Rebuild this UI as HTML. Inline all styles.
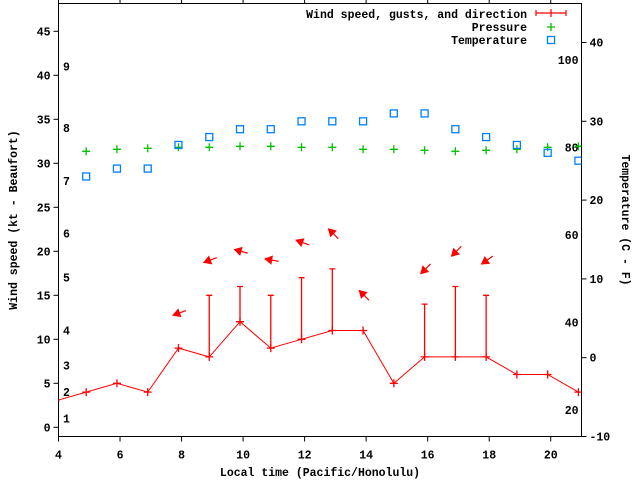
<!DOCTYPE html>
<html><head><meta charset="utf-8"><style>
html,body{margin:0;padding:0;background:#fff;}
svg{display:block;}
text{font-family:"Liberation Mono",monospace;font-weight:bold;font-size:11.5px;fill:#000;}
</style></head><body>
<svg id="chart" width="640" height="480" viewBox="0 0 640 480" xmlns="http://www.w3.org/2000/svg"></svg>
<script>
const hours = [3.9,4.9,5.9,6.9,7.9,8.9,9.9,10.9,11.9,12.9,13.9,14.9,15.9,16.9,17.9,18.9,19.9,20.9];
const windKt = [3,4,5,4,9,8,12,9,10,11,11,5,8,8,8,6,6,4];
const gustKt = [null,null,null,null,null,15,16,15,17,18,null,null,14,16,15,null,null,null];
const windDir = [null,null,null,null,70,70,105,100,110,135,135,null,45,45,55,null,null,null];
const tempC = [null,23,24,24,27,28,29,29,30,30,30,31,31,29,28,27,26,25];
const pressureHpa = [null,1015.5,1015.7,1015.8,1015.9,1015.9,1016.0,1016.0,1015.9,1015.9,1015.7,1015.7,1015.6,1015.5,1015.6,1015.7,1015.9,1016.0];
const xTicks = [4,6,8,10,12,14,16,18,20];
const yTicks = [0,5,10,15,20,25,30,35,40,45];
const tempTicks = [-10,0,10,20,30,40];
const fahrTicks = [20,40,60,80,100];
const beaufortLabels = [1,2,3,4,5,6,7,8,9];
const beaufortKt = [1,4,7,11,17,22,28,34,41];

const L=58.5,R=581.5,T=3.5,B=436.5;
const X=h=>L+(h-4)*(R-L)/17;
const Y=v=>427.3-v*8.8;
const YT=c=>357.7-c*7.88;
const YP=p=>146.3+(1016-p)*10;
const svg=document.getElementById('chart');
const NS='http://www.w3.org/2000/svg';
function mk(tag,attrs,parent){const e=document.createElementNS(NS,tag);for(const k in attrs)e.setAttribute(k,attrs[k]);(parent||svg).appendChild(e);return e;}
function txt(s,x,y,anchor,parent){const t=mk('text',{x:x,y:y,'text-anchor':anchor||'start'},parent);t.textContent=s;return t;}

const defs=mk('defs',{});
const cp=mk('clipPath',{id:'plotclip'},defs);
mk('rect',{x:L,y:T,width:R-L,height:B-T},cp);

const axes=mk('g',{});


mk('rect',{x:L,y:T,width:R-L,height:B-T,fill:'none',stroke:'#000','stroke-width':1},axes);
xTicks.forEach(v=>{
  const g=mk('g',{},axes);
  
  
  mk('line',{x1:X(v),x2:X(v),y1:B,y2:B+5,stroke:'#000'},g);
  mk('line',{x1:X(v),x2:X(v),y1:T,y2:T-5,stroke:'#000'},g);
  txt(String(v),X(v),B+22,'middle',g);
});
yTicks.forEach(v=>{
  const g=mk('g',{},axes);
  
  
  mk('line',{x1:L-5,x2:L,y1:Y(v),y2:Y(v),stroke:'#000'},g);
  txt(String(v),L-8,Y(v)+4,'end',g);
});
tempTicks.forEach(v=>{
  const g=mk('g',{},axes);
  
  
  mk('line',{x1:R,x2:R+5,y1:YT(v),y2:YT(v),stroke:'#000'},g);
  txt(String(v),R+8,YT(v)+4,'start',g);
});
fahrTicks.forEach(v=>{
  const t=txt(String(v),R-3,YT((v-32)*5/9)+4,'end',axes);
  
  
});
beaufortLabels.forEach((b,i)=>{
  const t=txt(String(b),63,Y(beaufortKt[i])+4,'start',axes);
  
  
});
const xt=txt('Local time (Pacific/Honolulu)',320,476,'middle');


const yl=txt('Wind speed (kt - Beaufort)',0,0,'middle');
yl.setAttribute('transform','translate(17,220) rotate(-90)');


const yr=txt('Temperature (C - F)',0,0,'middle');
yr.setAttribute('transform','translate(622,220) rotate(90)');



const plot=mk('g',{'clip-path':'url(#plotclip)'});
const pg=mk('g',{},plot);


pressureHpa.forEach((p,i)=>{
  if(p==null)return;
  const x=X(hours[i]),y=YP(p);
  const m=mk('path',{d:`M${x-4},${y}H${x+4}M${x},${y-4}V${y+4}`,stroke:'#00c000','stroke-width':1.3,fill:'none'},pg);
  
  
});
const tg=mk('g',{},plot);


tempC.forEach((c,i)=>{
  if(c==null)return;
  const x=X(hours[i]),y=YT(c);
  const m=mk('rect',{x:x-3.5,y:y-3.5,width:7,height:7,fill:'none',stroke:'#0080ff','stroke-width':1.3},tg);
  
  
});
const wg=mk('g',{},plot);


const wl=mk('polyline',{points:hours.map((h,i)=>X(h)+','+Y(windKt[i])).join(' '),fill:'none',stroke:'#ff0000','stroke-width':1},wg);


hours.forEach((h,i)=>{
  const x=X(h),y=Y(windKt[i]);
  const m=mk('path',{d:`M${x-4},${y}H${x+4}M${x},${y-4}V${y+4}`,stroke:'#ff0000','stroke-width':1.3,fill:'none'},wg);
  
  
  if(gustKt[i]!=null){
    const yg=Y(gustKt[i]);
    const e=mk('path',{d:`M${x},${y}V${yg}M${x-3},${yg}H${x+3}`,stroke:'#ff0000','stroke-width':1.3,fill:'none'},wg);
    
    
  }
  if(windDir[i]!=null){
    const top=Math.max(windKt[i],gustKt[i]||0)+4;
    const cy=Y(top),cx=x+1;
    const a=windDir[i]*Math.PI/180;
    const dx=-Math.sin(a),dy=Math.cos(a);
    const len=14;
    const hx=cx+dx*len/2,hy=cy+dy*len/2,tx=cx-dx*len/2,ty=cy-dy*len/2;
    const px=-dy,py=dx;
    const g=mk('g',{},wg);
    
    
    mk('line',{x1:tx,y1:ty,x2:hx,y2:hy,stroke:'#ff0000','stroke-width':1.2},g);
    const bx=hx-dx*7,by=hy-dy*7;
    mk('polygon',{points:`${hx},${hy} ${bx+px*4},${by+py*4} ${bx-px*4},${by-py*4}`,fill:'#ff0000',stroke:'#ff0000','stroke-width':0.8},g);
  }
});

const lg=mk('g',{});


const e1=mk('g',{},lg);


txt('Wind speed, gusts, and direction',527,18,'end',e1);
mk('path',{d:'M536,13H566M536,10V16M566,10V16M551,9V17',stroke:'#ff0000','stroke-width':1.2,fill:'none'},e1);
const e2=mk('g',{},lg);


txt('Pressure',527,31,'end',e2);
mk('path',{d:'M547,27H555M551,23V31',stroke:'#00c000','stroke-width':1.3,fill:'none'},e2);
const e3=mk('g',{},lg);


txt('Temperature',527,44,'end',e3);
mk('rect',{x:547.5,y:36.5,width:7,height:7,fill:'none',stroke:'#0080ff','stroke-width':1.3},e3);
</script>
</body></html>
